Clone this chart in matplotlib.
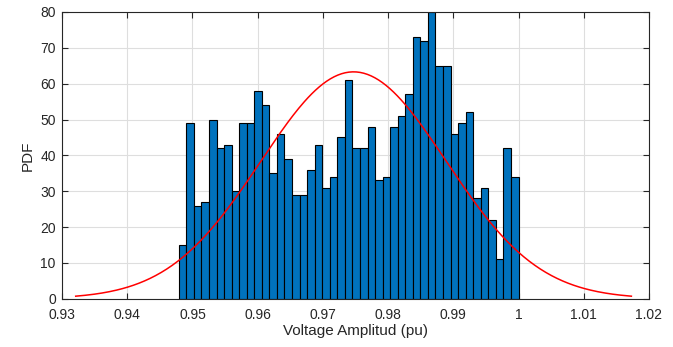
import numpy as np
import matplotlib
matplotlib.use("Agg")
import matplotlib.pyplot as plt

plt.rcParams['font.family'] = ['Liberation Sans', 'DejaVu Sans']

# Histogram data (PDF values per bin)
bin_start = 0.9479
bin_end = 1.0
heights = [15, 49, 26, 27, 50, 42, 43, 30, 49, 49, 58, 54, 35, 46, 39, 29, 29,
           36, 43, 31, 34, 45, 61, 42, 42, 48, 33, 34, 48, 51, 57, 73, 72, 80,
           65, 65, 46, 49, 52, 28, 31, 22, 11, 42, 34]

# Fitted normal curve parameters
mu = 0.9747
sigma = 0.0142
peak = 63.3

xticks = [0.93, 0.94, 0.95, 0.96, 0.97, 0.98, 0.99, 1.0, 1.01, 1.02]
xticklabels = ['0.93', '0.94', '0.95', '0.96', '0.97', '0.98', '0.99', '1', '1.01', '1.02']
yticks = [0, 10, 20, 30, 40, 50, 60, 70, 80]

fig = plt.figure(figsize=(6.73, 3.47), dpi=100)
ax = fig.add_axes([62/673, 1-298.7/347, (649-62)/673, (298.7-12)/347])

edges = np.linspace(bin_start, bin_end, len(heights) + 1)
ax.bar(edges[:-1], heights, width=np.diff(edges), align='edge',
       color='#0072BD', edgecolor='black', linewidth=0.8, zorder=2)

xc = np.linspace(mu - 3*sigma, mu + 3*sigma, 300)
yc = peak * np.exp(-0.5 * ((xc - mu) / sigma) ** 2)
ax.plot(xc, yc, color='red', linewidth=1.1, zorder=3)

ax.set_xlim(0.93, 1.02)
ax.set_ylim(0, 80)
ax.set_xticks(xticks)
ax.set_xticklabels(xticklabels)
ax.set_yticks(yticks)
ax.grid(True, color='#dedede', linewidth=0.8, zorder=0)
ax.set_axisbelow(True)
ax.tick_params(direction='in', top=True, right=True, length=4, width=0.8,
               colors='#262626', labelsize=10)
ax.tick_params(axis='x', pad=6.5)
ax.tick_params(axis='y', pad=4.5)
for s in ax.spines.values():
    s.set_color('#262626')
    s.set_linewidth(0.8)
ax.set_xlabel('Voltage Amplitud (pu)', fontsize=11, color='#262626', labelpad=1.5)
ax.set_ylabel('PDF', fontsize=11, color='#262626', labelpad=4)

fig.savefig('out.png', dpi=100)
